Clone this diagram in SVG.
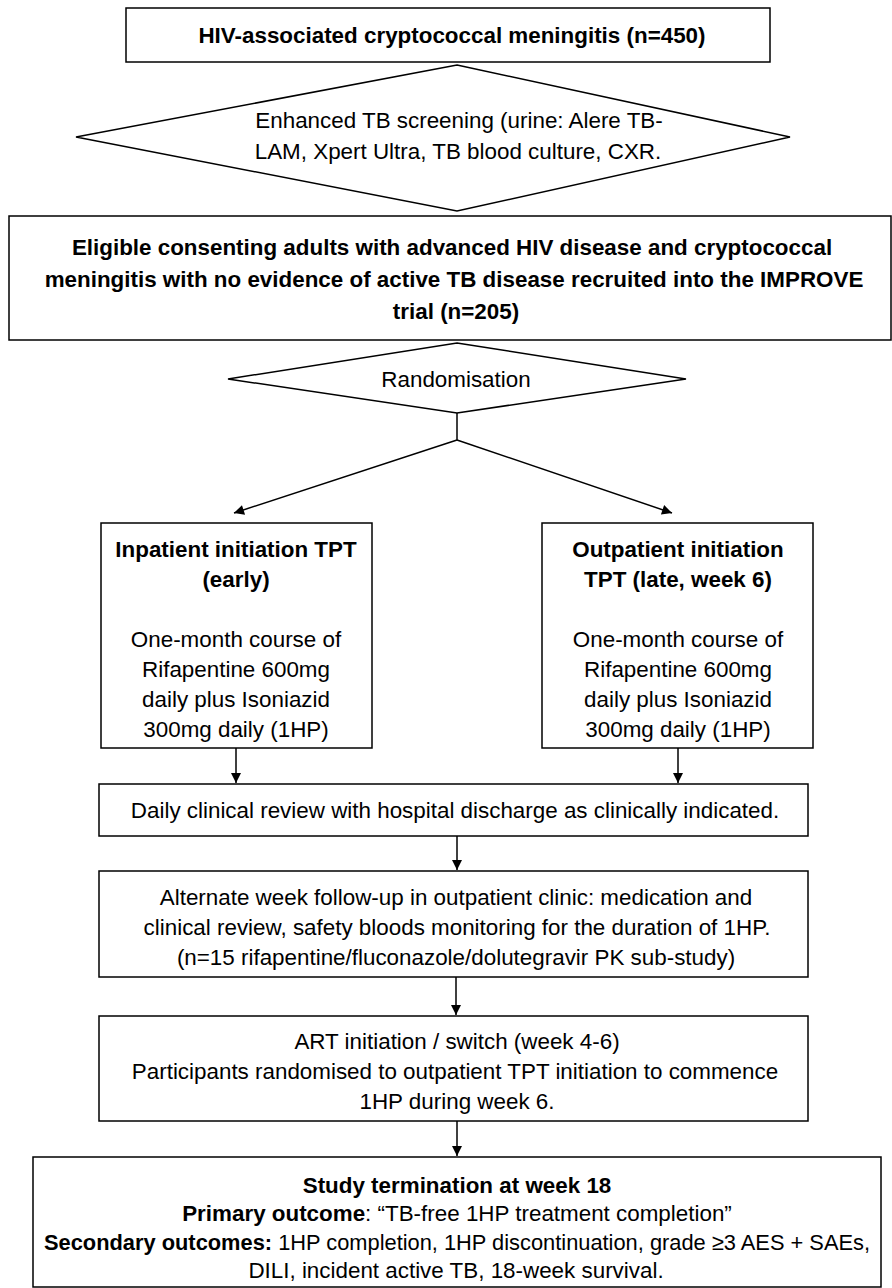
<svg xmlns="http://www.w3.org/2000/svg" width="892" height="1288" viewBox="0 0 892 1288">
<style>
.n{fill:#fff;stroke:#000;stroke-width:1.5}
.t{font-family:"Liberation Sans",Arial,sans-serif;font-size:22.4px;fill:#000;text-anchor:middle}
.b{font-weight:bold}
.c{fill:none;stroke:#000;stroke-width:1.5}
</style>
<defs>
<marker id="ah" viewBox="0 0 10 10" refX="10" refY="5" markerWidth="11" markerHeight="10" markerUnits="userSpaceOnUse" orient="auto">
<path d="M0,0 L10,5 L0,10 z" fill="#000"/>
</marker>
</defs>
<rect width="892" height="1288" fill="#fff"/>
<g id="connectors">
<line class="c" x1="457" y1="413" x2="457" y2="440"/>
<line class="c" x1="457" y1="440" x2="234" y2="513" marker-end="url(#ah)"/>
<line class="c" x1="457" y1="440" x2="672" y2="513" marker-end="url(#ah)"/>
<line class="c" x1="236" y1="748" x2="236" y2="783" marker-end="url(#ah)"/>
<line class="c" x1="678" y1="748" x2="678" y2="783" marker-end="url(#ah)"/>
<line class="c" x1="457" y1="836" x2="457" y2="870" marker-end="url(#ah)"/>
<line class="c" x1="456" y1="977" x2="456" y2="1015" marker-end="url(#ah)"/>
<line class="c" x1="457" y1="1121" x2="457" y2="1156" marker-end="url(#ah)"/>
</g>
<g id="n1">
<rect class="n" x="126" y="8" width="644" height="54"/>
<text class="t b" x="452" y="43">HIV-associated cryptococcal meningitis (n=450)</text>
</g>
<g id="n2">
<polygon class="n" points="457,65 790,137 457,211 76,137"/>
<text class="t" x="459" y="128">Enhanced TB screening (urine: Alere TB-</text>
<text class="t" x="458" y="159">LAM, Xpert Ultra, TB blood culture, CXR.</text>
</g>
<g id="n3">
<rect class="n" x="9" y="216" width="882" height="124"/>
<text class="t b" x="452" y="255">Eligible consenting adults with advanced HIV disease and cryptococcal</text>
<text class="t b" x="454" y="287">meningitis with no evidence of active TB disease recruited into the IMPROVE</text>
<text class="t b" x="456" y="319">trial (n=205)</text>
</g>
<g id="n4">
<polygon class="n" points="457,343 686,379 457,413 228,379"/>
<text class="t" x="456" y="387">Randomisation</text>
</g>
<g id="n5">
<rect class="n" x="101" y="523" width="271" height="225"/>
<text class="t b" x="236" y="557">Inpatient initiation TPT</text>
<text class="t b" x="236" y="587">(early)</text>
<text class="t" x="236" y="647">One-month course of</text>
<text class="t" x="236" y="677">Rifapentine 600mg</text>
<text class="t" x="236" y="707">daily plus Isoniazid</text>
<text class="t" x="236" y="737">300mg daily (1HP)</text>
</g>
<g id="n6">
<rect class="n" x="542" y="523" width="271" height="225"/>
<text class="t b" x="678" y="557">Outpatient initiation</text>
<text class="t b" x="678" y="587">TPT (late, week 6)</text>
<text class="t" x="678" y="647">One-month course of</text>
<text class="t" x="678" y="677">Rifapentine 600mg</text>
<text class="t" x="678" y="707">daily plus Isoniazid</text>
<text class="t" x="678" y="737">300mg daily (1HP)</text>
</g>
<g id="n7">
<rect class="n" x="99" y="784" width="709" height="52"/>
<text class="t" x="455" y="818">Daily clinical review with hospital discharge as clinically indicated.</text>
</g>
<g id="n8">
<rect class="n" x="99" y="871" width="709" height="106"/>
<text class="t" x="456" y="905">Alternate week follow-up in outpatient clinic: medication and</text>
<text class="t" x="457" y="935">clinical review, safety bloods monitoring for the duration of 1HP.</text>
<text class="t" x="456" y="965">(n=15 rifapentine/fluconazole/dolutegravir PK sub-study)</text>
</g>
<g id="n9">
<rect class="n" x="99" y="1016" width="709" height="105"/>
<text class="t" x="457" y="1049">ART initiation / switch (week 4-6)</text>
<text class="t" x="455" y="1079">Participants randomised to outpatient TPT initiation to commence</text>
<text class="t" x="457" y="1109">1HP during week 6.</text>
</g>
<g id="n10">
<rect class="n" x="33" y="1157" width="848" height="130"/>
<text class="t b" x="457" y="1193">Study termination at week 18</text>
<text class="t" x="457" y="1221"><tspan class="b">Primary outcome</tspan>: “TB-free 1HP treatment completion”</text>
<text class="t" x="457" y="1250" textLength="826" lengthAdjust="spacingAndGlyphs"><tspan class="b">Secondary outcomes:</tspan> 1HP completion, 1HP discontinuation, grade ≥3 AES + SAEs,</text>
<text class="t" x="456" y="1278">DILI, incident active TB, 18-week survival.</text>
</g>
</svg>
